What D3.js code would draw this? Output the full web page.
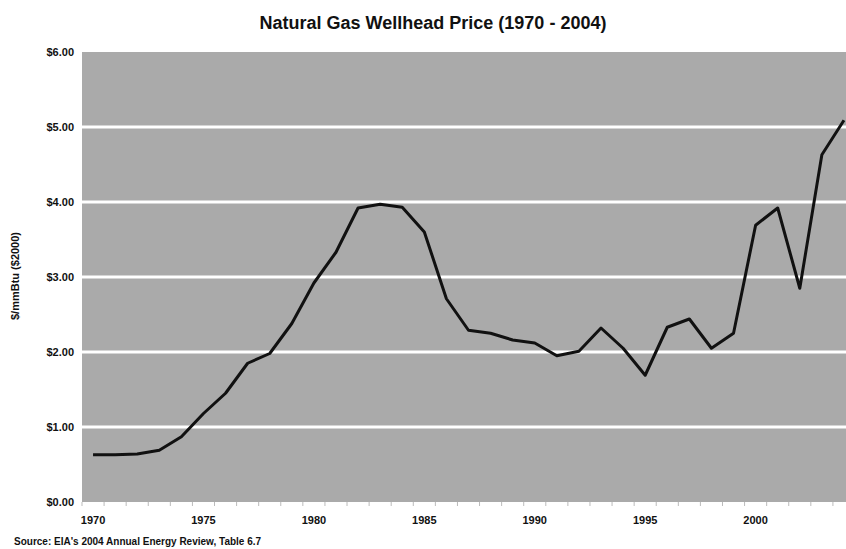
<!DOCTYPE html>
<meta charset='utf-8'>
<style>
    body { margin: 0; background: #fff; }
    text { font-family: 'Liberation Sans', Arial, sans-serif; font-weight: bold; fill: #111; }
    .grid line { stroke: #fff; stroke-width: 3; }
    .price { fill: none; stroke: #111; stroke-width: 3; stroke-linejoin: round; }
</style>

<svg width="846" height="549"></svg>
<script src="https://d3js.org/d3.v7.min.js"></script>

<script>

var years = d3.range(1970, 2005);
var prices = [0.63, 0.63, 0.64, 0.69, 0.87, 1.18, 1.45, 1.85, 1.98, 2.38,
              2.92, 3.33, 3.92, 3.97, 3.93, 3.60, 2.71, 2.29, 2.25, 2.16,
              2.12, 1.95, 2.01, 2.32, 2.05, 1.69, 2.33, 2.44, 2.05, 2.25,
              3.69, 3.92, 2.85, 4.63, 5.09];
var yTicks = [0, 1, 2, 3, 4, 5, 6];
var xLabels = [1970, 1975, 1980, 1985, 1990, 1995, 2000];

var svg = d3.select('svg');

var x = d3.scaleBand()
    .domain(years)
    .range([82, 855]);

var y = d3.scaleLinear()
    .domain([0, 6])
    .range([502, 52]);

// plot background
svg.append('rect')
    .attr('x', x.range()[0])
    .attr('y', y(6))
    .attr('width', x.range()[1] - x.range()[0])
    .attr('height', y(0) - y(6))
    .attr('fill', '#aaaaaa');

svg.append('g')
    .attr('class', 'grid')
   .selectAll('line')
   .data(yTicks.filter(function(d) { return d > 0 && d < 6; }))
   .enter().append('line')
    .attr('x1', x.range()[0])
    .attr('x2', x.range()[1])
    .attr('y1', function(d) { return y(d); })
    .attr('y2', function(d) { return y(d); });

// small year ticks under the plot
svg.append('g')
   .selectAll('line')
   .data(years)
   .enter().append('line')
    .attr('x1', function(d) { return x(d); })
    .attr('x2', function(d) { return x(d); })
    .attr('y1', y(0))
    .attr('y2', y(0) + 4)
    .attr('stroke', '#bbb');

var line = d3.line()
    .x(function(d, i) { return x(years[i]) + x.bandwidth() / 2; })
    .y(function(d) { return y(d); });

svg.append('path')
    .datum(prices)
    .attr('class', 'price')
    .attr('d', line);

// y labels
svg.append('g')
   .selectAll('text')
   .data(yTicks)
   .enter().append('text')
    .attr('x', 74)
    .attr('y', function(d) { return y(d) + 4; })
    .attr('text-anchor', 'end')
    .style('font-size', '11px')
    .text(function(d) { return '$' + d.toFixed(2); });

// x labels
svg.append('g')
   .selectAll('text')
   .data(xLabels)
   .enter().append('text')
    .attr('x', function(d) { return x(d) + x.bandwidth() / 2; })
    .attr('y', 524)
    .attr('text-anchor', 'middle')
    .style('font-size', '11px')
    .text(function(d) { return d; });

svg.append('text')
    .attr('x', 433)
    .attr('y', 29)
    .attr('text-anchor', 'middle')
    .style('font-size', '18px')
    .text('Natural Gas Wellhead Price (1970 - 2004)');

svg.append('text')
    .attr('transform', 'translate(19,276) rotate(-90)')
    .attr('text-anchor', 'middle')
    .style('font-size', '11px')
    .text('$/mmBtu ($2000)');

svg.append('text')
    .attr('x', 14)
    .attr('y', 545)
    .style('font-size', '10px')
    .text("Source: EIA's 2004 Annual Energy Review, Table 6.7");

</script>
